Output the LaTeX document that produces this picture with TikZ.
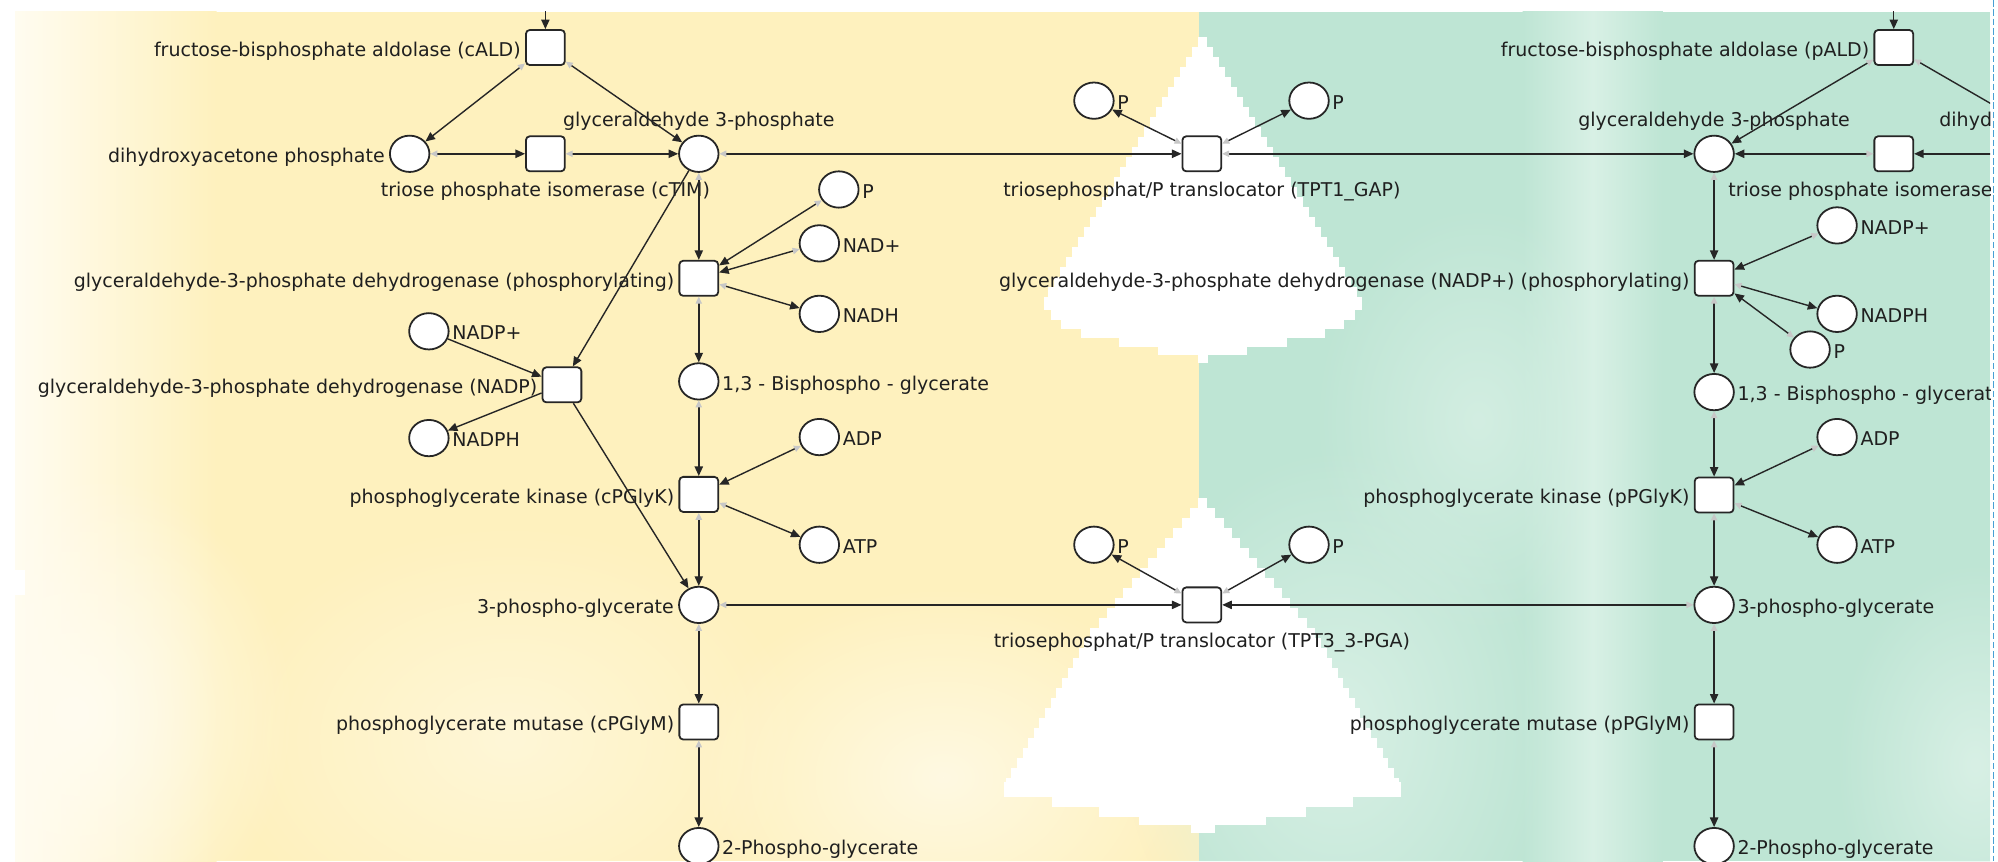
\documentclass[tikz,border=0pt]{standalone}
\usepackage{fontspec}
\setmainfont{DejaVu Sans}
\usetikzlibrary{arrows.meta,shapes.geometric,calc,fadings}

% compartment colours
\definecolor{yel}{RGB}{254,241,190}
\definecolor{yelL}{RGB}{255,249,226}
\definecolor{yelW}{RGB}{255,252,240}
\definecolor{grn}{RGB}{190,229,212}
\definecolor{grnL}{RGB}{216,240,229}
\definecolor{frame}{RGB}{72,160,212}

% soft round highlight
\tikzfading[name=glow, inner color=transparent!0, outer color=transparent!100]

\tikzset{
  lab/.style={font=\fontsize{14.9bp}{17bp}\selectfont, text=black!88, inner sep=0pt},
  place/.style={ellipse, draw=black!85, fill=white, line width=1.4bp,
    minimum width=31bp, minimum height=28.5bp, inner sep=0pt},
  trans/.style={rectangle, rounded corners=3bp, draw=black!85, fill=white, line width=1.4bp,
    minimum width=30.5bp, minimum height=27.5bp, inner sep=0pt},
  % labels: left, right, above, below the node
  tW/.style={label={[lab,anchor=base east,xshift=-3.2bp,yshift=-7bp]west:{#1}}},
  tE/.style={label={[lab,anchor=base west,xshift=2bp,yshift=-6.8bp]east:{#1}}},
  tN/.style={label={[lab,anchor=base,yshift=6.3bp]north:{#1}}},
  tS/.style={label={[lab,anchor=base,yshift=-19.3bp]south:{#1}}},
  flow/.style={draw=black!85, line width=1.1bp, -{Triangle[length=7.5bp,width=6.5bp]}},
  gflow/.style={flow, {Triangle[length=5.5bp,width=5bp,color=black!22]}-{Triangle[length=7.5bp,width=6.5bp]}},
}

\begin{document}
\begin{tikzpicture}[x=1bp,y=-1bp]
\useasboundingbox (0,0) rectangle (1568,676);

\begin{scope}
\clip (11.8,9.4) rectangle (1561.8,676);

% ---- cytosol (yellow) ----
\fill[yel] (11.8,9.4) rectangle (941,676);
\shade[left color=yelW, right color=yel] (11.8,9.4) rectangle (170,676);
\fill[yelL, path fading=glow] (740,610) ellipse [x radius=200, y radius=150];
\fill[yelL, path fading=glow, opacity=0.7] (400,580) ellipse [x radius=230, y radius=170];
\fill[yelW, path fading=glow] (60,560) ellipse [x radius=170, y radius=190];
\fill[white] (11.8,447) rectangle (19.6,467);

% ---- plastid (green) ----
\fill[grn] (941,9.4) rectangle (1561.8,676);
\shade[left color=grn, right color=grn, middle color=grnL] (1195,9.4) rectangle (1305,676);
\fill[grnL, path fading=glow] (1050,570) ellipse [x radius=170, y radius=220];
\fill[grnL, path fading=glow, opacity=0.8] (1160,330) ellipse [x radius=130, y radius=170];
\fill[grnL, path fading=glow] (1550,600) ellipse [x radius=110, y radius=160];

% ---- envelope gaps (stepped white areas) ----
\foreach \k in {0,...,25}{
  \pgfmathsetmacro\yt{28.8+7.85*\k}
  \pgfmathsetmacro\hw{3.5+0.6*(\yt-28.8)}
  \fill[white] ({944-\hw},{\yt}) rectangle ({944+\hw},{\yt+8.3});
}
\foreach \ya/\yb/\hw in {232.9/243/125, 243/251/119, 251/258/111, 258/265/96,
                         265/272/66, 272/278.5/35, 278.5/285/4}{
  \fill[white] ({944-\hw},{\ya}) rectangle ({944+\hw},{\yb});
}
\foreach \k in {0,...,28}{
  \pgfmathsetmacro\yt{391+7.85*\k}
  \pgfmathsetmacro\hw{\yt<494 ? 3.5+0.83*(\yt-391) : 89+0.56*(\yt-494)}
  \fill[white] ({943.8-\hw},{\yt}) rectangle ({943.8+\hw},{\yt+8.3});
}
\foreach \ya/\yb/\hw in {614/625.4/156, 625.4/633.3/118, 633.3/641/81,
                         641/647.6/50, 647.6/654/9.5}{
  \fill[white] ({943.8-\hw},{\ya}) rectangle ({943.8+\hw},{\yb});
}

% ---- cytosolic net ----
\coordinate (inC) at (428,-30);
\node[trans, tW={fructose-bisphosphate aldolase (cALD)}] (cALD) at (428,37.3) {};
\node[place, tW={dihydroxyacetone phosphate}] (DHAP) at (321.5,120.7) {};
\node[trans, tS={triose phosphate isomerase (cTIM)}] (cTIM) at (428,120.7) {};
\node[place, tN={glyceraldehyde 3-phosphate}] (GAP) at (548.4,120.7) {};
\node[trans, tW={glyceraldehyde-3-phosphate dehydrogenase (phosphorylating)}] (GAPDH) at (548.4,218.4) {};
\node[place, tE={P}] (Pc) at (658.3,148.7) {};
\node[place, tE={NAD+}] (NADc) at (643,191) {};
\node[place, tE={NADH}] (NADHc) at (643,246.3) {};
\node[place, tE={1,3 - Bisphospho - glycerate}] (BPG) at (548.4,299.3) {};
\node[trans, tW={glyceraldehyde-3-phosphate dehydrogenase (NADP)}] (GAPDHn) at (441,302) {};
\node[place, tE={NADP+}] (NADPc) at (336.6,260) {};
\node[place, tE={NADPH}] (NADPHc) at (336.6,343.8) {};
\node[trans, tW={phosphoglycerate kinase (cPGlyK)}] (cPGK) at (548.4,388) {};
\node[place, tE={ADP}] (ADPc) at (643,343) {};
\node[place, tE={ATP}] (ATPc) at (643,427.5) {};
\node[place, tW={3-phospho-glycerate}] (PGAc) at (548.4,474.7) {};
\node[trans, tW={phosphoglycerate mutase (cPGlyM)}] (cPGM) at (548.4,566.6) {};
\node[place, tE={2-Phospho-glycerate}] (PG2c) at (548.4,664) {};

% ---- translocators ----
\node[trans, tS={triosephosphat/P translocator (TPT1\_GAP)}] (TPT1) at (943.2,120.7) {};
\node[place, tE={P}] (P1l) at (858.5,79) {};
\node[place, tE={P}] (P1r) at (1027.3,79) {};
\node[trans, tS={triosephosphat/P translocator (TPT3\_3-PGA)}] (TPT3) at (943.2,474.7) {};
\node[place, tE={P}] (P3l) at (858.5,427.5) {};
\node[place, tE={P}] (P3r) at (1027.3,427.5) {};

% ---- plastidic net ----
\coordinate (inP) at (1486.2,-30);
\node[trans, tW={fructose-bisphosphate aldolase (pALD)}] (pALD) at (1486.2,37.3) {};
\node[place, tN={glyceraldehyde 3-phosphate}] (GAPp) at (1345.2,120.7) {};
\node[trans, tS={triose phosphate isomerase (pTIM)}] (pTIM) at (1486.2,120.7) {};
\node[place, tN={dihydroxyacetone phosphate}] (DHAPp) at (1630.5,120.7) {};
\node[trans, tW={glyceraldehyde-3-phosphate dehydrogenase (NADP+) (phosphorylating)}] (GAPDHp) at (1345.2,218.4) {};
\node[place, tE={NADP+}] (NADPp) at (1441.7,176.9) {};
\node[place, tE={NADPH}] (NADPHp) at (1441.7,246.3) {};
\node[place, tE={P}] (Pp) at (1420.5,274.3) {};
\node[place, tE={1,3 - Bisphospho - glycerate}] (BPGp) at (1345.2,307.7) {};
\node[trans, tW={phosphoglycerate kinase (pPGlyK)}] (pPGK) at (1345.2,388.5) {};
\node[place, tE={ADP}] (ADPp) at (1441.7,343) {};
\node[place, tE={ATP}] (ATPp) at (1441.7,427.5) {};
\node[place, tE={3-phospho-glycerate}] (PGAp) at (1345.2,474.7) {};
\node[trans, tW={phosphoglycerate mutase (pPGlyM)}] (pPGM) at (1345.2,566.6) {};
\node[place, tE={2-Phospho-glycerate}] (PG2p) at (1345.2,664) {};

% ---- cytosolic arcs ----
\draw[flow] (inC) -- (cALD);
\draw[gflow] (cALD) -- (DHAP);
\draw[gflow] (cALD) -- (GAP);
\draw[gflow] (DHAP) -- (cTIM);
\draw[gflow] (cTIM) -- (GAP);
\draw[gflow] (GAP) -- (GAPDH);
\draw[gflow] (Pc) -- (GAPDH);
\draw[gflow] (NADc) -- (GAPDH);
\draw[gflow] (GAPDH) -- (NADHc);
\draw[gflow] (GAPDH) -- (BPG);
\draw[gflow] (BPG) -- (cPGK);
\draw[gflow] (ADPc) -- (cPGK);
\draw[gflow] (cPGK) -- (ATPc);
\draw[gflow] (cPGK) -- (PGAc);
\draw[gflow] (PGAc) -- (cPGM);
\draw[gflow] (cPGM) -- (PG2c);
\draw[flow] (GAP) -- (GAPDHn);
\draw[flow] (NADPc) -- (GAPDHn);
\draw[flow] (GAPDHn) -- (NADPHc);
\draw[flow] (GAPDHn) -- (PGAc);

% ---- translocator arcs ----
\draw[gflow] (GAP) -- (TPT1);
\draw[gflow] (TPT1) -- (GAPp);
\draw[gflow] (TPT1) -- (P1l);
\draw[gflow] (TPT1) -- (P1r);
\draw[gflow] (PGAc) -- (TPT3);
\draw[gflow] (PGAp) -- (TPT3);
\draw[gflow] (TPT3) -- (P3l);
\draw[gflow] (TPT3) -- (P3r);

% ---- plastidic arcs ----
\draw[flow] (inP) -- (pALD);
\draw[gflow] (pALD) -- (GAPp);
\draw[gflow] (pALD) -- (DHAPp);
\draw[gflow] (DHAPp) -- (pTIM);
\draw[gflow] (pTIM) -- (GAPp);
\draw[gflow] (GAPp) -- (GAPDHp);
\draw[gflow] (NADPp) -- (GAPDHp);
\draw[gflow] (GAPDHp) -- (NADPHp);
\draw[gflow] (Pp) -- (GAPDHp);
\draw[gflow] (GAPDHp) -- (BPGp);
\draw[gflow] (BPGp) -- (pPGK);
\draw[gflow] (ADPp) -- (pPGK);
\draw[gflow] (pPGK) -- (ATPp);
\draw[gflow] (pPGK) -- (PGAp);
\draw[gflow] (PGAp) -- (pPGM);
\draw[gflow] (pPGM) -- (PG2p);
\end{scope}

% page frame edge
\draw[frame, line width=1.3bp, dash pattern=on 5.2bp off 2.1bp] (1564.5,0) -- (1564.5,676);
\end{tikzpicture}
\end{document}
